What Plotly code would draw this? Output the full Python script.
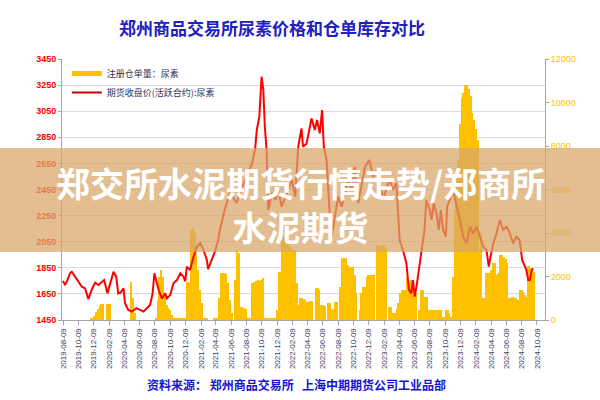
import plotly.graph_objects as go
import pandas as pd

# ---------------- data ----------------
tick_dates = ['2019-08-09', '2019-10-09', '2019-12-09', '2020-02-09', '2020-04-09', '2020-06-09',
              '2020-08-09', '2020-10-09', '2020-12-09', '2021-02-09', '2021-04-09', '2021-06-09',
              '2021-08-09', '2021-10-09', '2021-12-09', '2022-02-09', '2022-04-09', '2022-06-09',
              '2022-08-09', '2022-10-09', '2022-12-09', '2023-02-09', '2023-04-09', '2023-06-09',
              '2023-08-09', '2023-10-09', '2023-12-09', '2024-02-09', '2024-04-09', '2024-06-09',
              '2024-08-09', '2024-10-09']

left_ticks = [1450, 1650, 1850, 2050, 2250, 2450, 2650, 2850, 3050, 3250, 3450]
right_ticks = [0, 2000, 4000, 6000, 8000, 10000, 12000]
right_tick_text = ['0', '2000', '4000', '6000', '8000', '10000', '12000']

# weekly registered warehouse receipts (right axis), starting 2019-08-09
receipt_start = '2019-08-09'
receipts = [
    0, 0, 0, 0, 0, 0, 0, 0, 0, 0,
    0, 0, 0, 0, 0, 0, 50, 100, 200, 350,
    500, 650, 740, 740, 0, 740, 740, 740, 0, 0,
    0, 0, 0, 0, 0, 0, 0, 0, 0, 1760,
    1000, 300, 0, 0, 0, 0, 0, 0, 0, 0,
    0, 0, 0, 100, 900, 2000, 2300, 2000, 1230, 700,
    540, 460, 230, 80, 80, 80, 80, 80, 80, 80,
    80, 1760, 1700, 4140, 4215, 4000, 3080, 2300, 1380, 780,
    100, 80, 50, 0, 0, 0, 80, 80, 80, 1000,
    2150, 2150, 2150, 2100, 1680, 900, 300, 0, 1840, 3200,
    3100, 600, 600, 530, 500, 80, 80, 80, 1690, 1750,
    1800, 1840, 1800, 1850, 1920, 80, 80, 80, 80, 80,
    80, 80, 460, 2220, 2220, 3680, 3830, 3830, 3700, 3370,
    3300, 3220, 3200, 1690, 700, 1000, 1000, 980, 900, 850,
    830, 860, 860, 0, 1490, 1490, 1380, 690, 690, 650,
    0, 770, 770, 460, 500, 830, 830, 0, 1530, 2835,
    2835, 2835, 2530, 2450, 2450, 2450, 2070, 1230, 0, 460,
    1230, 1530, 1530, 2000, 2070, 2070, 2070, 2070, 0, 3450,
    3450, 3370, 3450, 3450, 3300, 0, 600, 600, 300, 300,
    500, 780, 1230, 1380, 1380, 1380, 1910, 1690, 1840, 1530,
    1380, 1200, 0, 460, 1380, 1380, 1080, 1080, 460, 460,
    460, 460, 460, 460, 460, 460, 150, 150, 460, 460,
    300, 150, 2000, 5060, 6500, 7360, 9000, 10190, 10420, 10800,
    10800, 10600, 10300, 9500, 9200, 8800, 8280, 3220, 4000, 1000,
    1000, 2150, 2150, 2150, 2300, 2600, 2600, 2070, 2150, 2990,
    2990, 2900, 2800, 2600, 1000, 1000, 1050, 1000, 1000, 920,
    1380, 1380, 1300, 1150, 1070, 2500, 2400, 2300, 2200]
receipt_dates = pd.date_range(receipt_start, periods=len(receipts), freq='7D')

# futures close price (left axis)
price_dates = ['2019-08-09', '2019-08-17', '2019-08-24', '2019-09-06', '2019-09-13', '2019-09-26', '2019-10-08',
               '2019-10-23', '2019-11-05', '2019-11-18', '2019-12-01', '2019-12-15', '2019-12-28', '2020-01-11',
               '2020-01-20', '2020-02-02', '2020-02-16', '2020-02-26', '2020-03-08', '2020-03-16', '2020-03-26',
               '2020-04-06', '2020-04-12', '2020-04-25', '2020-05-09', '2020-05-28', '2020-06-11', '2020-06-24',
               '2020-07-08', '2020-07-21', '2020-07-31', '2020-08-07', '2020-08-17', '2020-08-26', '2020-09-06',
               '2020-09-19', '2020-09-26', '2020-10-09', '2020-10-22', '2020-11-05', '2020-11-18', '2020-12-01',
               '2020-12-08', '2020-12-14', '2020-12-27', '2021-01-10', '2021-01-24', '2021-02-06', '2021-02-19',
               '2021-03-04', '2021-03-09', '2021-03-23', '2021-04-05', '2021-04-18', '2021-04-25', '2021-05-15',
               '2021-06-04', '2021-07-01', '2021-07-18', '2021-08-10', '2021-08-31', '2021-09-12', '2021-09-19',
               '2021-09-29', '2021-10-08', '2021-10-15', '2021-10-21', '2021-10-28', '2021-11-04', '2021-11-18',
               '2021-12-01', '2021-12-14', '2021-12-27', '2022-01-17', '2022-02-06', '2022-02-19', '2022-03-03',
               '2022-03-16', '2022-03-22', '2022-04-05', '2022-04-18', '2022-04-25', '2022-05-08', '2022-05-17',
               '2022-05-28', '2022-06-06', '2022-06-13', '2022-06-24', '2022-07-07', '2022-07-14', '2022-07-27',
               '2022-08-09', '2022-08-23', '2022-09-05', '2022-09-18', '2022-10-01', '2022-10-15', '2022-10-28',
               '2022-11-11', '2022-11-24', '2022-12-11', '2022-12-27', '2023-01-10', '2023-01-23', '2023-02-05',
               '2023-02-19', '2023-03-03', '2023-03-15', '2023-03-29', '2023-04-04', '2023-04-11', '2023-04-24',
               '2023-05-08', '2023-05-18', '2023-05-27', '2023-06-03', '2023-06-10', '2023-06-19', '2023-06-30',
               '2023-07-10', '2023-07-19', '2023-07-26', '2023-08-09', '2023-08-16', '2023-08-25', '2023-09-05',
               '2023-09-14', '2023-09-22', '2023-10-01', '2023-10-12', '2023-10-17', '2023-10-28', '2023-11-10',
               '2023-11-24', '2023-12-07', '2023-12-20', '2024-01-03', '2024-01-16', '2024-01-29', '2024-02-12',
               '2024-02-25', '2024-03-09', '2024-03-22', '2024-03-31', '2024-04-07', '2024-04-18', '2024-05-01',
               '2024-05-14', '2024-05-27', '2024-06-10', '2024-06-23', '2024-07-06', '2024-07-19', '2024-08-01',
               '2024-08-11', '2024-08-22', '2024-08-28', '2024-09-04', '2024-09-11', '2024-09-18', '2024-09-24']
prices = [1750, 1718, 1745, 1808, 1820, 1782, 1756, 1705, 1692, 1610,
          1680, 1736, 1718, 1744, 1756, 1654, 1756, 1820, 1782, 1654,
          1660, 1693, 1578, 1527, 1514, 1540, 1527, 1514, 1540, 1565,
          1654, 1808, 1731, 1667, 1616, 1654, 1616, 1641, 1731, 1756,
          1808, 1782, 1745, 1859, 1833, 1935, 2012, 2038, 1986, 1910,
          1840, 1910, 1973, 2063, 2140, 2300, 2423, 2346, 2450, 2548,
          2650, 2753, 2906, 3008, 3314, 3212, 2931, 2753, 2293, 2423,
          2370, 2446, 2318, 2423, 2523, 2395, 2778, 2919, 2778, 2800,
          2931, 2995, 2906, 2982, 2880, 3059, 2778, 2676, 2242, 2088,
          2242, 2395, 2318, 2423, 2523, 2446, 2625, 2346, 2497, 2625,
          2676, 2548, 2599, 2497, 2370, 2472, 2523, 2446, 2497, 2293,
          2063, 1986, 1884, 1680, 1654, 1756, 1629, 1731, 1884, 1986,
          2140, 2370, 2293, 2217, 2346, 2267, 2140, 2293, 2140, 2088,
          2318, 2370, 2446, 2318, 2217, 2088, 2037, 2165, 2114, 2165,
          2088, 2012, 1986, 1859, 1935, 2037, 2114, 2216, 2140, 2165,
          2114, 2037, 2088, 2063, 1910, 1859, 1833, 1756, 1756, 1833,
          1846]

bar_name = '注册仓单量：尿素'
line_name = '期货收盘价(活跃合约):尿素'
title_text = '郑州商品交易所尿素价格和仓单库存对比'
source_text = '资料来源：&nbsp;郑州商品交易所&nbsp;&nbsp;&nbsp;上海中期期货公司工业品部'
banner_text = '郑交所水泥期货行情走势/郑商所<br>水泥期货'

# ---------------- figure ----------------
GOLD = '#FFC000'
RED = '#FF0000'
AXIS = '#A6A6A6'
CJK = 'Noto Sans CJK SC'

fig = go.Figure()
fig.add_trace(go.Bar(x=receipt_dates, y=receipts, yaxis='y', showlegend=False,
                     marker=dict(color=GOLD, line=dict(width=0)),
                     width=7 * 86400000))
fig.add_trace(go.Scatter(x=price_dates, y=prices, yaxis='y2', mode='lines', showlegend=False,
                         line=dict(color=RED, width=2)))
# legend entries
fig.add_trace(go.Scatter(x=[None], y=[None], yaxis='y2', mode='lines', name=bar_name,
                         line=dict(color=GOLD, width=5)))
fig.add_trace(go.Scatter(x=[None], y=[None], yaxis='y2', mode='lines', name=line_name,
                         line=dict(color='#C00000', width=2)))

fig.update_layout(
    width=600, height=400,
    margin=dict(l=62, r=55, t=59, b=80),
    paper_bgcolor='white', plot_bgcolor='white',
    title=dict(text=title_text, x=272 / 600, xanchor='center', xref='container',
               y=1 - 29 / 400, yanchor='middle', yref='container',
               font=dict(family=CJK, size=17, color='#2020C0', weight='bold')),
    xaxis=dict(type='date', range=['2019-08-05', '2024-11-10'],
               tickmode='array', tickvals=tick_dates, ticktext=tick_dates, tickangle=-90,
               tickfont=dict(family='Liberation Sans', size=8, color='#3A3A5C'),
               showline=True, linecolor=AXIS, ticks='outside', ticklen=4, tickcolor=AXIS,
               showgrid=False, zeroline=False),
    yaxis=dict(side='right', range=[0, 12000], tickmode='array', tickvals=right_ticks,
               ticktext=right_tick_text,
               tickfont=dict(family='Liberation Sans', size=9, color=GOLD),
               showline=True, linecolor=AXIS, ticks='outside', ticklen=3, tickcolor=AXIS,
               showgrid=False, zeroline=False,
               minor=dict(tick0=0, dtick=1200, showgrid=True, gridcolor='#D9D9D9', gridwidth=1, ticks='')),
    yaxis2=dict(side='left', overlaying='y', range=[1450, 3450], tickmode='array', tickvals=left_ticks,
                tickfont=dict(family='Liberation Sans', size=9, color=RED, weight='bold'),
                showline=True, linecolor=AXIS, ticks='outside', ticklen=3, tickcolor=AXIS,
                showgrid=False, zeroline=False),
    legend=dict(x=0.01, y=1.0, xanchor='left', yanchor='top', bgcolor='rgba(0,0,0,0)',
                font=dict(family=CJK, size=9, color='#333355'), tracegroupgap=0),
    bargap=0,
)

# banner overlay
fig.add_shape(type='rect', xref='paper', yref='paper', x0=-0.2, x1=1.2,
              y0=(320 - 252) / 261, y1=(320 - 148) / 261,
              fillcolor='rgb(215,166,104)', opacity=0.73, line=dict(width=0), layer='above')
fig.add_annotation(text=banner_text, xref='paper', yref='paper', x=(300 - 62) / 483,
                   y=(320 - 204) / 261, xanchor='center', yanchor='middle', showarrow=False,
                   align='center',
                   font=dict(family=CJK, size=34, color='white', weight='bold'))
fig.add_annotation(text=source_text, xref='paper', yref='paper', x=(296 - 62) / 483,
                   y=(320 - 384) / 261, xanchor='center', yanchor='middle', showarrow=False,
                   font=dict(family=CJK, size=12, color='#1515D0', weight='bold'))

fig.write_html('out.html')
